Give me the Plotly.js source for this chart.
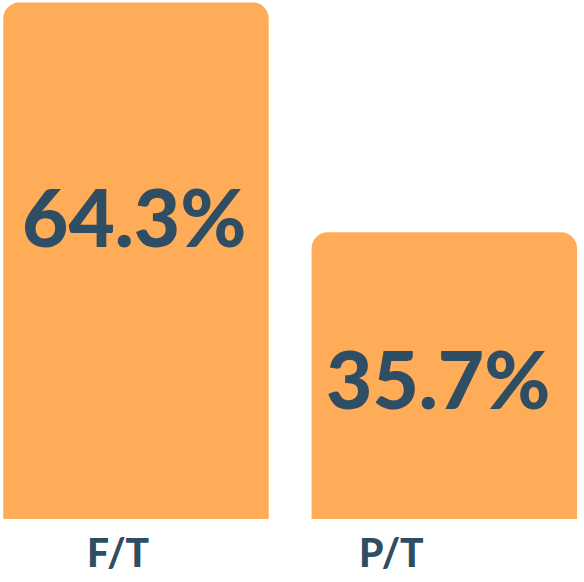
<!DOCTYPE html>
<html>
<head>
<meta charset="utf-8">
<script src="https://cdn.plot.ly/plotly-3.0.1.min.js"></script>
<style>html,body{margin:0;padding:0;background:#fff;}#chart{width:584px;height:582px;}</style>
</head>
<body>
<div id="chart"></div>
<script>
const categories = ["F/T", "P/T"];
const values = [64.3, 35.7];
const valueLabels = ["64.3%", "35.7%"];

const barColor = "#FFAC58";
const textColor = "#2F4D63";
const fontFamily = "Lato, 'Open Sans', sans-serif";

const xIdx = categories.map((c, i) => i);

const trace = {
  type: "bar",
  x: xIdx,
  y: values,
  width: 0.861,
  marker: { color: barColor, cornerradius: 16, line: { width: 0 } },
  hoverinfo: "none",
  showlegend: false
};

// value label offsets (layout only)
const valueLabelPos = [{ dx: -0.008, yFrac: 0.586 }, { dx: -0.021, yFrac: 0.493 }];
const catLabelX = [-0.057, 0.830];

const annotations = [];
values.forEach((v, i) => {
  annotations.push({
    x: xIdx[i] + valueLabelPos[i].dx,
    y: v * valueLabelPos[i].yFrac,
    xref: "x", yref: "y",
    text: valueLabels[i],
    showarrow: false,
    xanchor: "center", yanchor: "middle",
    font: { family: fontFamily, size: 80, color: textColor, weight: 900 }
  });
  annotations.push({
    x: catLabelX[i],
    y: 0,
    xref: "x", yref: "paper",
    text: categories[i],
    showarrow: false,
    xanchor: "center", yanchor: "top",
    yshift: -8,
    font: { family: fontFamily, size: 39, color: textColor, weight: 900 }
  });
});

const layout = {
  width: 584,
  height: 582,
  margin: { l: 0, r: 0, t: 0, b: 63 },
  paper_bgcolor: "#ffffff",
  plot_bgcolor: "#ffffff",
  xaxis: { range: [-0.441, 1.453], showgrid: false, zeroline: false, showticklabels: false, showline: false, ticks: "" },
  yaxis: { range: [0, 64.61], showgrid: false, zeroline: false, showticklabels: false, showline: false, ticks: "" },
  annotations: annotations,
  showlegend: false
};

Plotly.newPlot("chart", [trace], layout, { displayModeBar: false, staticPlot: true });
</script>
</body>
</html>
